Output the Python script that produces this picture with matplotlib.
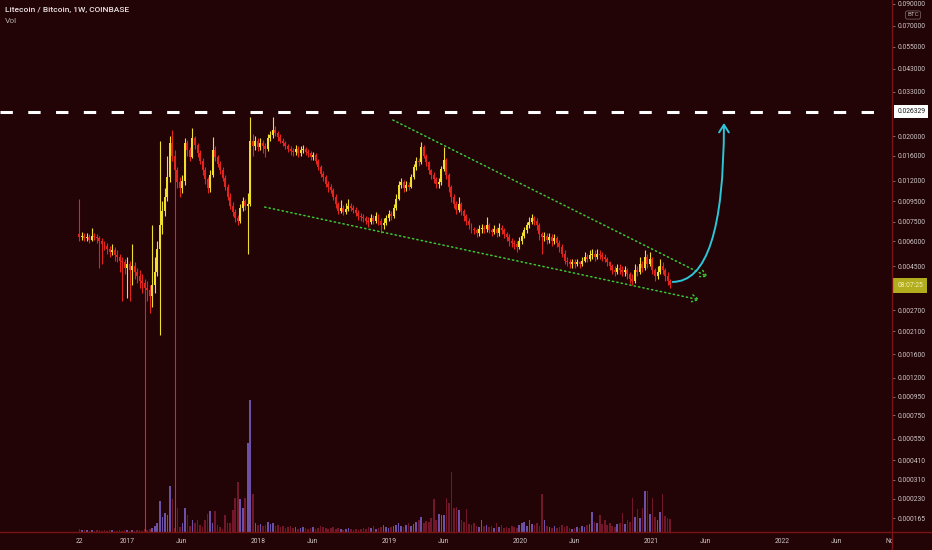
import numpy as np
import pandas as pd
import matplotlib
matplotlib.use('Agg')
import matplotlib.pyplot as plt
import matplotlib.dates as mdates
from matplotlib.lines import Line2D
from matplotlib.transforms import Bbox, TransformedBbox, blended_transform_factory

plt.rcParams['font.family'] = ['Roboto', 'DejaVu Sans']
plt.rcParams['lines.scale_dashes'] = False

########################################################################
# LTC/BTC weekly candles (Coinbase)
first_week = '2016-08-22'
first_open = 0.0065

close = [0.0063, 0.0064, 0.0062, 0.0063, 0.0061, 0.0064, 0.0063, 0.0062, 0.0060, 0.0058,
         0.0057, 0.0055, 0.0053, 0.0054, 0.0051, 0.0050, 0.0048, 0.0047, 0.0044, 0.0046,
         0.0043, 0.0045, 0.0042, 0.0040, 0.0038, 0.0037, 0.0035, 0.0034, 0.0032, 0.0036,
         0.0042, 0.0055, 0.0072, 0.0085, 0.0100, 0.0125, 0.0185, 0.0160, 0.0135, 0.0118,
         0.0110, 0.0120, 0.0185, 0.0170, 0.0158, 0.0195, 0.0180, 0.0165, 0.0150, 0.0135,
         0.0122, 0.0110, 0.0128, 0.0170, 0.0158, 0.0146, 0.0135, 0.0124, 0.0112, 0.0100,
         0.0090, 0.0084, 0.0078, 0.0076, 0.0088, 0.0095, 0.0090, 0.0092, 0.0190, 0.0178,
         0.0188, 0.0176, 0.0185, 0.0178, 0.0172, 0.0195, 0.0202, 0.0215, 0.0208, 0.0198,
         0.0190, 0.0184, 0.0178, 0.0172, 0.0168, 0.0166, 0.0172, 0.0164, 0.0170, 0.0172,
         0.0167, 0.0164, 0.0158, 0.0161, 0.0150, 0.0140, 0.0130, 0.0125, 0.0116, 0.0112,
         0.0108, 0.0100, 0.0092, 0.0085, 0.0088, 0.0084, 0.0087, 0.0090, 0.0088, 0.0086,
         0.0083, 0.0080, 0.0079, 0.0078, 0.0076, 0.0075, 0.0078, 0.0076, 0.0080, 0.0076,
         0.0072, 0.0074, 0.0078, 0.0082, 0.0080, 0.0088, 0.0098, 0.0115, 0.0118, 0.0110,
         0.0115, 0.0112, 0.0125, 0.0140, 0.0150, 0.0148, 0.0176, 0.0160, 0.0148, 0.0135,
         0.0128, 0.0122, 0.0116, 0.0118, 0.0138, 0.0152, 0.0128, 0.0112, 0.0100, 0.0092,
         0.0086, 0.0092, 0.0085, 0.0080, 0.0076, 0.0072, 0.0069, 0.0068, 0.0066, 0.0069,
         0.0070, 0.0069, 0.0072, 0.0068, 0.0067, 0.0069, 0.0066, 0.0070, 0.0068, 0.0065,
         0.0063, 0.0060, 0.0059, 0.0058, 0.0056, 0.0060, 0.0064, 0.0068, 0.0072, 0.0075,
         0.0078, 0.0076, 0.0072, 0.0065, 0.0063, 0.0064, 0.0061, 0.0063, 0.0060, 0.0062,
         0.0059, 0.0056, 0.0052, 0.0048, 0.0047, 0.0046, 0.0047, 0.0046, 0.0047, 0.0046,
         0.0048, 0.0050, 0.0049, 0.0051, 0.0052, 0.0050, 0.0052, 0.0051, 0.0050, 0.0049,
         0.0047, 0.0045, 0.0043, 0.0042, 0.0044, 0.0043, 0.0042, 0.0043, 0.0041, 0.0039,
         0.0038, 0.0043, 0.0042, 0.0046, 0.0044, 0.0050, 0.0046, 0.0049, 0.0043, 0.0040,
         0.0042, 0.0045, 0.0043, 0.0040, 0.0038, 0.0036]

high = [0.0098, 0.0067, 0.0066, 0.0066, 0.0065, 0.0070, 0.0066, 0.0065, 0.0064, 0.0062,
        0.0060, 0.0059, 0.0057, 0.0058, 0.0056, 0.0054, 0.0052, 0.0050, 0.0049, 0.0050,
        0.0048, 0.0058, 0.0047, 0.0044, 0.0043, 0.0041, 0.0039, 0.0038, 0.0036, 0.0072,
        0.0050, 0.0060, 0.0190, 0.0095, 0.0110, 0.0160, 0.0200, 0.0215, 0.0170, 0.0140,
        0.0125, 0.0128, 0.0195, 0.0192, 0.0176, 0.0220, 0.0200, 0.0185, 0.0170, 0.0155,
        0.0140, 0.0126, 0.0135, 0.0198, 0.0178, 0.0162, 0.0150, 0.0140, 0.0128, 0.0116,
        0.0104, 0.0094, 0.0087, 0.0081, 0.0092, 0.0100, 0.0098, 0.0105, 0.0248, 0.0205,
        0.0200, 0.0195, 0.0196, 0.0192, 0.0185, 0.0205, 0.0212, 0.0248, 0.0225, 0.0212,
        0.0204, 0.0196, 0.0190, 0.0183, 0.0178, 0.0175, 0.0180, 0.0178, 0.0178, 0.0180,
        0.0177, 0.0172, 0.0168, 0.0166, 0.0164, 0.0154, 0.0144, 0.0134, 0.0128, 0.0120,
        0.0116, 0.0111, 0.0103, 0.0094, 0.0096, 0.0091, 0.0093, 0.0097, 0.0093, 0.0091,
        0.0089, 0.0086, 0.0083, 0.0082, 0.0080, 0.0079, 0.0082, 0.0081, 0.0084, 0.0082,
        0.0078, 0.0078, 0.0081, 0.0086, 0.0085, 0.0092, 0.0103, 0.0120, 0.0124, 0.0121,
        0.0120, 0.0119, 0.0130, 0.0146, 0.0158, 0.0156, 0.0187, 0.0180, 0.0163, 0.0151,
        0.0138, 0.0132, 0.0125, 0.0124, 0.0142, 0.0177, 0.0155, 0.0131, 0.0115, 0.0103,
        0.0095, 0.0100, 0.0094, 0.0087, 0.0082, 0.0078, 0.0074, 0.0071, 0.0070, 0.0072,
        0.0073, 0.0072, 0.0079, 0.0074, 0.0070, 0.0072, 0.0071, 0.0074, 0.0072, 0.0070,
        0.0067, 0.0065, 0.0062, 0.0061, 0.0060, 0.0063, 0.0067, 0.0071, 0.0075, 0.0079,
        0.0082, 0.0080, 0.0078, 0.0074, 0.0067, 0.0067, 0.0066, 0.0066, 0.0065, 0.0065,
        0.0064, 0.0061, 0.0058, 0.0054, 0.0050, 0.0049, 0.0049, 0.0049, 0.0049, 0.0048,
        0.0050, 0.0053, 0.0052, 0.0054, 0.0055, 0.0054, 0.0055, 0.0054, 0.0053, 0.0052,
        0.0050, 0.0048, 0.0046, 0.0045, 0.0046, 0.0046, 0.0045, 0.0045, 0.0044, 0.0042,
        0.0041, 0.0046, 0.0045, 0.0050, 0.0048, 0.0054, 0.0052, 0.0053, 0.0050, 0.0044,
        0.0045, 0.0049, 0.0047, 0.0044, 0.0042, 0.0039]

low = [0.0060, 0.0061, 0.0060, 0.0060, 0.0059, 0.0060, 0.0061, 0.0059, 0.0044, 0.0046,
       0.0054, 0.0052, 0.0050, 0.0051, 0.0048, 0.0047, 0.0042, 0.0030, 0.0041, 0.0031,
       0.0030, 0.0036, 0.0039, 0.0037, 0.0035, 0.0033, 0.0001, 0.0030, 0.0026, 0.0028,
       0.0033, 0.0040, 0.0020, 0.0065, 0.0080, 0.0095, 0.0118, 0.0150, 0.0001, 0.0110,
       0.0100, 0.0105, 0.0115, 0.0160, 0.0150, 0.0155, 0.0172, 0.0158, 0.0145, 0.0128,
       0.0116, 0.0104, 0.0106, 0.0125, 0.0150, 0.0140, 0.0130, 0.0120, 0.0108, 0.0096,
       0.0087, 0.0080, 0.0075, 0.0072, 0.0074, 0.0085, 0.0086, 0.0052, 0.0090, 0.0160,
       0.0170, 0.0168, 0.0170, 0.0165, 0.0158, 0.0168, 0.0188, 0.0195, 0.0200, 0.0190,
       0.0184, 0.0178, 0.0172, 0.0166, 0.0162, 0.0160, 0.0162, 0.0158, 0.0160, 0.0165,
       0.0162, 0.0158, 0.0152, 0.0153, 0.0145, 0.0135, 0.0126, 0.0120, 0.0112, 0.0106,
       0.0104, 0.0096, 0.0088, 0.0082, 0.0083, 0.0081, 0.0082, 0.0085, 0.0085, 0.0083,
       0.0080, 0.0077, 0.0076, 0.0075, 0.0073, 0.0071, 0.0073, 0.0073, 0.0074, 0.0072,
       0.0066, 0.0069, 0.0072, 0.0076, 0.0077, 0.0078, 0.0086, 0.0096, 0.0110, 0.0106,
       0.0107, 0.0108, 0.0110, 0.0122, 0.0136, 0.0142, 0.0145, 0.0155, 0.0142, 0.0130,
       0.0122, 0.0117, 0.0110, 0.0111, 0.0115, 0.0134, 0.0122, 0.0106, 0.0094, 0.0088,
       0.0082, 0.0084, 0.0081, 0.0076, 0.0072, 0.0069, 0.0066, 0.0065, 0.0063, 0.0064,
       0.0066, 0.0066, 0.0067, 0.0066, 0.0064, 0.0065, 0.0063, 0.0064, 0.0065, 0.0062,
       0.0060, 0.0057, 0.0056, 0.0055, 0.0053, 0.0055, 0.0058, 0.0062, 0.0066, 0.0070,
       0.0073, 0.0072, 0.0068, 0.0061, 0.0052, 0.0060, 0.0058, 0.0059, 0.0057, 0.0058,
       0.0056, 0.0053, 0.0050, 0.0046, 0.0045, 0.0044, 0.0044, 0.0044, 0.0045, 0.0044,
       0.0045, 0.0047, 0.0047, 0.0048, 0.0049, 0.0048, 0.0049, 0.0049, 0.0048, 0.0047,
       0.0045, 0.0043, 0.0041, 0.0040, 0.0041, 0.0041, 0.0040, 0.0040, 0.0039, 0.0037,
       0.0036, 0.0037, 0.0040, 0.0041, 0.0042, 0.0043, 0.0044, 0.0045, 0.0041, 0.0038,
       0.0039, 0.0041, 0.0041, 0.0038, 0.0036, 0.0035]

# volume, thousand LTC (rough)
volume = [3, 2, 2, 2, 1, 2, 1, 2, 2, 1,
          2, 1, 2, 2, 1, 1, 2, 1, 2, 2,
          1, 2, 1, 2, 2, 1, 3, 2, 3, 4,
          6, 9, 31, 15, 19, 17, 46, 33, 4, 24,
          5, 9, 24, 17, 6, 12, 9, 12, 7, 5,
          12, 18, 21, 9, 21, 7, 5, 3, 17, 9,
          9, 22, 34, 50, 33, 24, 34, 90, 133, 38,
          9, 7, 8, 6, 7, 10, 8, 9, 6, 7,
          5, 6, 4, 5, 6, 4, 5, 3, 4, 5,
          4, 3, 4, 5, 3, 4, 6, 5, 4, 3,
          4, 5, 3, 4, 3, 2, 3, 4, 3, 2,
          3, 2, 3, 4, 3, 5, 4, 6, 3, 4,
          5, 7, 5, 4, 5, 6, 7, 9, 6, 5,
          7, 9, 6, 8, 10, 12, 15, 9, 11, 10,
          14, 33, 12, 18, 17, 17, 34, 29, 60, 24,
          25, 22, 12, 10, 23, 8, 7, 9, 6, 5,
          12, 6, 7, 5, 6, 4, 9, 5, 7, 4,
          5, 4, 6, 5, 4, 7, 9, 10, 6, 12,
          8, 7, 9, 6, 38, 12, 6, 5, 4, 6,
          4, 5, 7, 5, 6, 4, 3, 4, 5, 4,
          6, 5, 7, 8, 20, 10, 9, 17, 8, 12,
          7, 9, 6, 5, 8, 9, 19, 8, 12, 10,
          34, 15, 23, 14, 24, 41, 41, 18, 34, 15,
          12, 20, 38, 16, 14, 13]

price_ticks = [0.09, 0.07, 0.055, 0.043, 0.033, 0.020, 0.016, 0.012, 0.0095,
               0.0075, 0.006, 0.0045, 0.0027, 0.0021, 0.0016, 0.0012, 0.00095,
               0.00075, 0.00055, 0.00041, 0.00031, 0.00023, 0.000165]
date_ticks = ['2016-08-22', '2017-01-01', '2017-06-01', '2018-01-01', '2018-06-01',
              '2019-01-01', '2019-06-01', '2020-01-01', '2020-06-01', '2021-01-01',
              '2021-06-01', '2022-01-01', '2022-06-01', '2022-11-01']
date_labels = ['22', '2017', 'Jun', '2018', 'Jun', '2019', 'Jun', '2020', 'Jun',
               '2021', 'Jun', '2022', 'Jun', 'Nov']

resistance = 0.026329
upper_trend = [('2019-01-12', 0.0240), ('2021-06-08', 0.00397)]
lower_trend = [('2018-01-20', 0.00889), ('2021-05-16', 0.00304)]
target_arrow = [('2021-03-01', 0.00375), ('2021-07-22', 0.0232)]
last_price = 0.0036
countdown = '08:07:25'

########################################################################

bg = '#220306'
up_col = '#f0de2c'
dn_col = '#e3241c'
axis_red = '#7a1414'

dates = pd.date_range(first_week, periods=len(close), freq='7D')
x = mdates.date2num(dates)
c = np.array(close)
o = np.array([first_open] + close[:-1])
h = np.array(high)
l = np.array(low)
up = c >= o
cols = np.where(up, up_col, dn_col)
vcols = np.where(up, '#7459b8', '#7c1a2e')

fig = plt.figure(figsize=(9.32, 5.5), dpi=100, facecolor=bg)
rect = [0, 18 / 550, 892 / 932, 532 / 550]
vax = fig.add_axes(rect)
ax = fig.add_axes(rect, sharex=vax)
vax.set_facecolor(bg)
ax.patch.set_visible(False)

# volume overlay
vax.bar(x, volume, width=4.5, color=vcols, alpha=0.9, linewidth=0)
vax.set_ylim(0, 536)
vax.axis('off')

# price, TradingView style log scale
fwd = lambda p: np.log10(np.clip(p, 1e-9, None) + 1e-4)
inv = lambda t: 10 ** t - 1e-4
ax.set_yscale('function', functions=(fwd, inv))

ax.vlines(x, l, h, colors=cols, linewidth=0.8, zorder=2)
ax.bar(x, np.abs(c - o), bottom=np.minimum(o, c), width=5.5, color=cols, linewidth=0, zorder=3)

ax.set_xlim(mdates.date2num(pd.Timestamp('2016-01-14')), mdates.date2num(pd.Timestamp('2022-11-02')))
ax.set_ylim(0.0001266, 0.09371)

# resistance line
xend = mdates.date2num(pd.Timestamp('2022-09-27'))
ax.plot([ax.get_xlim()[0], xend], [resistance, resistance], color='white', lw=2.2,
        dashes=(8.9, 11.1), zorder=5, solid_capstyle='butt', dash_capstyle='butt')

# wedge lines
for seg in (upper_trend, lower_trend):
    (d0, p0), (d1, p1) = seg
    ax.annotate('', xy=(mdates.date2num(pd.Timestamp(d1)), p1),
                xytext=(mdates.date2num(pd.Timestamp(d0)), p0),
                arrowprops=dict(arrowstyle='->,head_length=0.45,head_width=0.25', color='#39c634',
                                lw=1.1, linestyle=(0, (1, 2.2)), shrinkA=0, shrinkB=0), zorder=6)

(d0, p0), (d1, p1) = target_arrow
ax.annotate('', xy=(mdates.date2num(pd.Timestamp(d1)), p1),
            xytext=(mdates.date2num(pd.Timestamp(d0)), p0),
            arrowprops=dict(arrowstyle='->,head_length=0.55,head_width=0.35', color='#2cc6d8',
                            lw=1.4, connectionstyle='angle3,angleA=0,angleB=90',
                            shrinkA=0, shrinkB=0), zorder=6)

# axes look
for s in ax.spines.values():
    s.set_visible(False)
ax.yaxis.tick_right()
ax.set_yticks(price_ticks)
ax.set_yticklabels(['%.6f' % t for t in price_ticks])
ax.yaxis.set_minor_locator(matplotlib.ticker.NullLocator())
ax.tick_params(axis='y', which='major', labelsize=4.9, labelcolor='#cfc6c6', color='#8a7a7a',
               length=2.2, width=0.6, pad=1.8)
ax.set_xticks(mdates.date2num(pd.to_datetime(date_ticks)))
ax.set_xticklabels(date_labels)
ax.tick_params(axis='x', labelsize=4.9, labelcolor='#cfc6c6', length=0, pad=4.5)
clip = TransformedBbox(Bbox.from_extents(0, 0, 892 / 932, 1), fig.transFigure)
for t in ax.get_xticklabels():
    t.set_clip_on(True)
    t.set_clip_box(clip)

fig.add_artist(Line2D([0, 1], [18 / 550, 18 / 550], color=axis_red, lw=1.0, transform=fig.transFigure))
fig.add_artist(Line2D([892 / 932, 892 / 932], [0, 1], color=axis_red, lw=1.0, transform=fig.transFigure))

# labels on the price scale
tr = blended_transform_factory(ax.transAxes, ax.transData)
ax.text(1.006, resistance, '0.026329', transform=tr, fontsize=4.9, color='#1c1c1c', ha='left',
        va='center', clip_on=False, zorder=10,
        bbox=dict(boxstyle='square,pad=0.45', fc='white', ec='none'))
ax.text(1.006, last_price, countdown, transform=tr, fontsize=4.9, color='#f4f0b8', ha='left',
        va='center', clip_on=False, zorder=10,
        bbox=dict(boxstyle='square,pad=0.6', fc='#b2ad1c', ec='none'))
fig.text(913 / 932, 1 - 15 / 550, 'BTC', fontsize=4.6, color='#b8b0b0', ha='center', va='center',
         bbox=dict(boxstyle='round,pad=0.25,rounding_size=0.3', fc=bg, ec='#6e5c5c', lw=0.6), zorder=10)

fig.text(5 / 932, 1 - 10 / 550, 'Litecoin / Bitcoin, 1W, COINBASE', fontsize=6.0,
         color='#ece4e4', ha='left', va='center', fontweight='medium')
fig.text(5 / 932, 1 - 21 / 550, 'Vol', fontsize=6.0, color='#b5acac', ha='left', va='center')

fig.savefig('out.png', dpi=100, facecolor=bg)
